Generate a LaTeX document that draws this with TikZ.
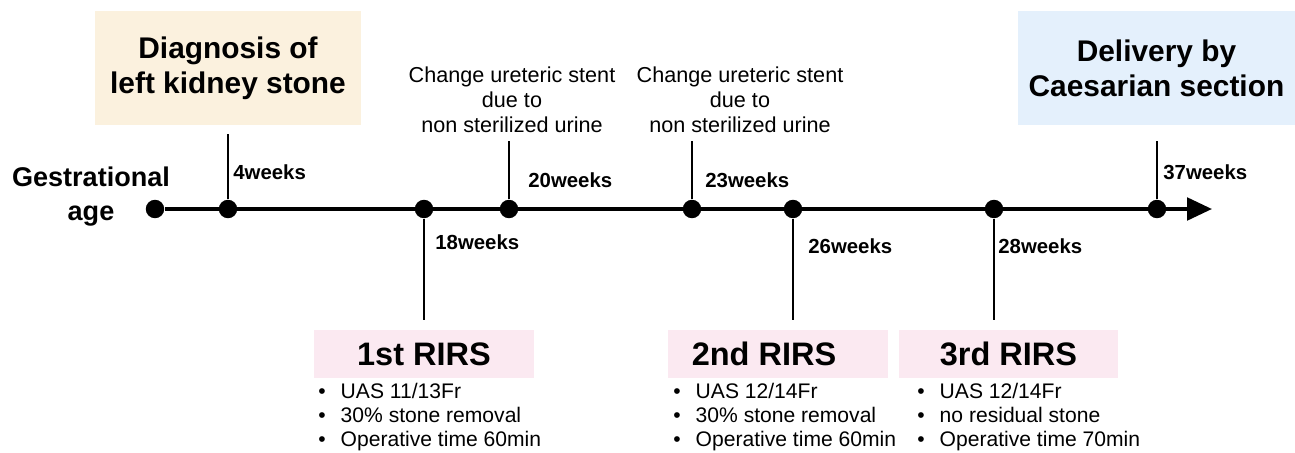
\documentclass[tikz,border=0pt]{standalone}
\usepackage{fontspec}
\setmainfont{Liberation Sans}
\usetikzlibrary{arrows.meta}
\definecolor{diagcol}{HTML}{FBF1DE}
\definecolor{delivcol}{HTML}{E4F0FC}
\definecolor{rirscol}{HTML}{FBE9F1}

\begin{document}
\begin{tikzpicture}[x=0.02cm,y=-0.02cm,
    dot/.style={circle,fill=black,inner sep=0pt,minimum size=10.5pt},
    axis/.style={line width=2.2pt},
    tick/.style={line width=0.9pt},
    wk/.style={anchor=west,inner sep=0pt,font=\fontsize{11.6}{14}\selectfont\bfseries},
    topbox/.style={inner sep=0pt,align=center,minimum height=2.28cm,font=\fontsize{17}{20}\selectfont\bfseries},
    rirs/.style={fill=rirscol,inner sep=0pt,minimum width=4.4cm,minimum height=0.96cm,font=\fontsize{18.5}{20}\selectfont\bfseries},
    note/.style={inner sep=0pt,align=center,font=\fontsize{12.3}{14.2}\selectfont},
    items/.style={anchor=west,inner sep=0pt,align=left,font=\fontsize{12}{13.7}\selectfont}]
    \useasboundingbox (0,0) rectangle (1295,453);

    %Gestational age
    \node[align=center,inner sep=0pt,font=\fontsize{15.4}{19.3}\selectfont\bfseries] (ga) at (91,197) {Gestrational\\age};

    %time line
    \coordinate (tip) at (1212,209);
    \node[dot] (g0) at (155,209) {};
    \node[dot] (w4) at (228,209) {};
    \node[dot] (w18) at (424,209) {};
    \node[dot] (w20) at (509,209) {};
    \node[dot] (w23) at (692,209) {};
    \node[dot] (w26) at (793,209) {};
    \node[dot] (w28) at (994,209) {};
    \node[dot] (w37) at (1157,209) {};
    \draw[axis,-{Triangle[length=0.5cm,width=0.45cm]}] (g0) -- (tip);

    %top events
    \node[topbox,fill=diagcol,minimum width=5.32cm] (diag) at (228,68) {Diagnosis of\\left kidney stone};
    \node[topbox,fill=delivcol,minimum width=5.54cm] (deliv) at (1156.5,68) {Delivery by\\Caesarian section};
    \node[note] (st1) at (512,100) {Change ureteric stent\\due to\\non sterilized urine};
    \node[note] (st2) at (740,100) {Change ureteric stent\\due to\\non sterilized urine};

    \coordinate (w4up) at (228,134);
    \coordinate (w20up) at (509,141);
    \coordinate (w23up) at (692,141);
    \coordinate (w37up) at (1157,141);
    \draw[tick] (w4) -- (w4up);
    \draw[tick] (w20) -- (w20up);
    \draw[tick] (w23) -- (w23up);
    \draw[tick] (w37) -- (w37up);

    %bottom events
    \coordinate (w18dn) at (424,320);
    \coordinate (w26dn) at (793,320);
    \coordinate (w28dn) at (994,320);
    \draw[tick] (w18) -- (w18dn);
    \draw[tick] (w26) -- (w26dn);
    \draw[tick] (w28) -- (w28dn);

    \node[rirs] (r1) at (424,354) {1st RIRS};
    \node[rirs] (r2) at (778,354) {\hspace*{-0.56cm}2nd RIRS};
    \node[rirs] (r3) at (1008.5,354) {3rd RIRS};

    \node[items] (b1) at (318,417) {\textbullet\hspace{0.3cm}UAS 11/13Fr\\\textbullet\hspace{0.3cm}30\% stone removal\\\textbullet\hspace{0.3cm}Operative time 60min};
    \node[items] (b2) at (673,417) {\textbullet\hspace{0.3cm}UAS 12/14Fr\\\textbullet\hspace{0.3cm}30\% stone removal\\\textbullet\hspace{0.3cm}Operative time 60min};
    \node[items] (b3) at (917,417) {\textbullet\hspace{0.3cm}UAS 12/14Fr\\\textbullet\hspace{0.3cm}no residual stone\\\textbullet\hspace{0.3cm}Operative time 70min};

    %week labels
    \node[wk] (l4) at (233,172) {4weeks};
    \node[wk] (l18) at (435,242) {18weeks};
    \node[wk] (l20) at (528,180) {20weeks};
    \node[wk] (l23) at (705,180) {23weeks};
    \node[wk] (l26) at (808,246) {26weeks};
    \node[wk] (l28) at (998,246) {28weeks};
    \node[wk] (l37) at (1163,172) {37weeks};
\end{tikzpicture}
\end{document}
